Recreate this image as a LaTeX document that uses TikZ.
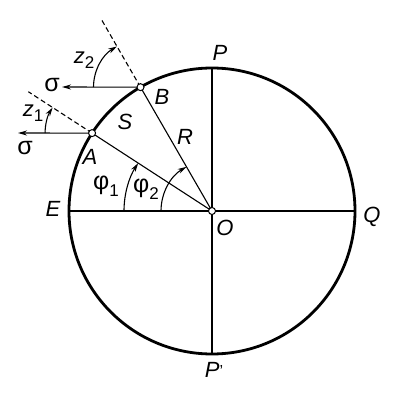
\documentclass[tikz,border=0pt]{standalone}
\usepackage{fontspec}
\setmainfont{Liberation Sans}
\usetikzlibrary{arrows.meta,calc}
\begin{document}
\begin{tikzpicture}[x=1pt,y=1pt,
  thin line/.style={line width=1.1pt},
  rim/.style={line width=2.8pt},
  pt/.style={circle,draw,fill=white,line width=1pt,inner sep=0pt,minimum size=7pt},
  lbl/.style={font=\fontsize{22}{22}\selectfont\itshape,inner sep=0pt},
  glbl/.style={font=\fontsize{25}{25}\selectfont,inner sep=0pt},
  arr/.style={thin line,-{Stealth[length=9pt,width=5pt]}},
  dsh/.style={thin line,dashed,dash pattern=on 5pt off 3pt}]
\useasboundingbox (0,0) rectangle (410,400);
\coordinate (Oc) at (212,189);
\draw[rim] (Oc) circle (143);
\coordinate (P) at ($(Oc)+(90:143)$);
\coordinate (Pp) at ($(Oc)+(-90:143)$);
\coordinate (E) at ($(Oc)+(180:143)$);
\coordinate (Q) at ($(Oc)+(0:143)$);
\coordinate (Ac) at ($(Oc)+(147:143)$);
\coordinate (Bc) at ($(Oc)+(120:143)$);
\coordinate (Ad) at ($(Oc)+(147:219)$);
\coordinate (Bd) at ($(Oc)+(120:221)$);
\coordinate (As) at (18,267);
\coordinate (Bs) at (62,313);
% radii and axes
\draw[thin line] (P) -- (Pp);
\draw[thin line] (E) -- (Q);
\draw[thin line] (Oc) -- (Ac);
\draw[thin line] (Oc) -- (Bc);
% dashed normals
\draw[dsh] (Ac) -- (Ad);
\draw[dsh] (Bc) -- (Bd);
% sigma arrows
\draw[arr] (Ac) -- (As);
\draw[arr] (Bc) -- (Bs);
% angle arcs
\draw[arr] ($(Bc)+(180:47)$) arc[start angle=180,end angle=120,radius=47];
\draw[arr] ($(Ac)+(180:47)$) arc[start angle=180,end angle=147,radius=47];
\draw[arr] ($(Oc)+(180:88)$) arc[start angle=180,end angle=147,radius=88];
\draw[arr] ($(Oc)+(180:51)$) arc[start angle=180,end angle=120,radius=51];
% point markers
\node[pt] (O) at (Oc) {};
\node[pt] (A) at (Ac) {};
\node[pt] (B) at (Bc) {};
% labels
\node[lbl] (lP) at (220,347) {P};
\node[lbl] (lB) at (162,303) {B};
\node[lbl] (lS) at (125,278) {S};
\node[lbl] (lR) at (185,263) {R};
\node[lbl] (lA) at (90,243) {A};
\node[lbl] (lE) at (53,191) {E};
\node[lbl] (lO) at (225,172) {O};
\node[lbl] (lQ) at (372,183) {Q};
\node[lbl] (lPp) at (214,30) {P\/\raisebox{1pt}{\fontsize{16}{16}\selectfont\upshape'}};
\node[glbl] (s1) at (52,315) {σ};
\node[glbl] (s2) at (25,252) {σ};
\node[lbl] (z2) at (84,340) {z\raisebox{-5pt}{\fontsize{17}{17}\selectfont\upshape 2}};
\node[lbl] (z1) at (33,287) {z\raisebox{-5pt}{\fontsize{17}{17}\selectfont\upshape 1}};
\node[glbl] (f1) at (106,214) {φ\raisebox{-7pt}{\fontsize{17}{17}\selectfont 1}};
\node[glbl] (f2) at (146,211) {φ\raisebox{-7pt}{\fontsize{17}{17}\selectfont 2}};
\end{tikzpicture}
\end{document}
